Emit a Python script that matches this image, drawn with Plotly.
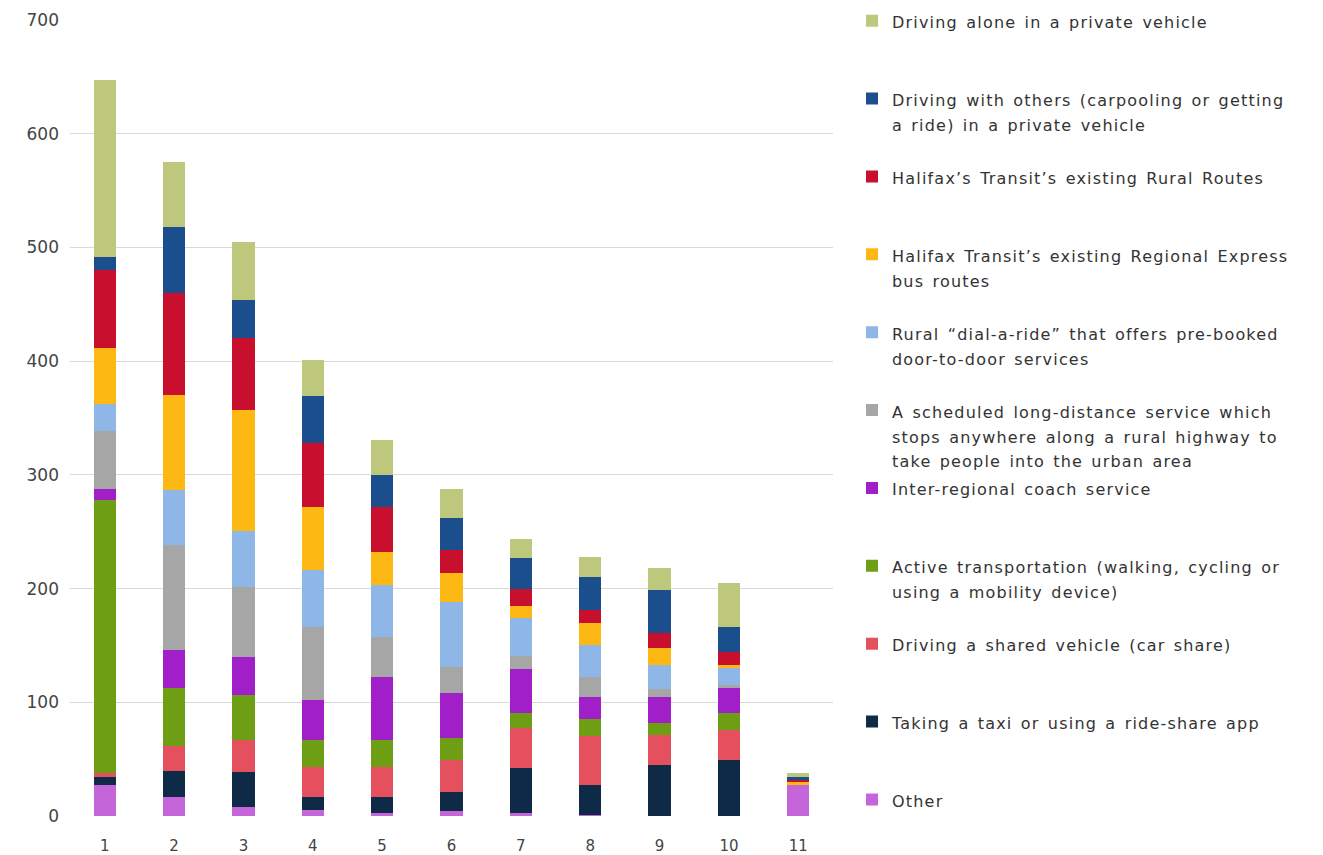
import plotly.graph_objects as go

categories = ["1", "2", "3", "4", "5", "6", "7", "8", "9", "10", "11"]

# values per mode, listed from the bottom of each stack to the top
other = [27, 17, 8, 5, 3, 4, 3, 1, 0, 0, 27]
taxi = [7, 23, 31, 12, 14, 17, 39, 26, 45, 49, 0]
car_share = [4, 22, 28, 26, 26, 28, 35, 43, 26, 27, 0]
active = [240, 51, 39, 24, 24, 20, 14, 15, 11, 15, 0]
coach = [10, 33, 34, 35, 55, 39, 38, 20, 23, 22, 0]
scheduled = [51, 92, 61, 64, 35, 23, 12, 17, 7, 2, 0]
dial_a_ride = [23, 49, 50, 50, 46, 57, 33, 28, 21, 15, 0]
regional_express = [50, 83, 106, 56, 29, 26, 11, 20, 15, 3, 3]
rural_routes = [68, 90, 63, 56, 40, 20, 15, 11, 13, 11, 2]
driving_with_others = [12, 58, 34, 41, 28, 28, 27, 29, 38, 22, 2]
driving_alone = [155, 57, 51, 32, 31, 26, 17, 18, 19, 39, 4]

series = [
    (["Other"], other, "#C466DA"),
    (["Taking a taxi or using a ride-share app"], taxi, "#0E2A47"),
    (["Driving a shared vehicle (car share)"], car_share, "#E4505E"),
    (["Active transportation (walking, cycling or", "using a mobility device)"], active, "#6E9E14"),
    (["Inter-regional coach service"], coach, "#A01FC8"),
    (["A scheduled long-distance service which", "stops anywhere along a rural highway to",
      "take people into the urban area"], scheduled, "#A6A6A6"),
    (["Rural \u201cdial-a-ride\u201d that offers pre-booked", "door-to-door services"], dial_a_ride, "#8EB6E6"),
    (["Halifax Transit\u2019s existing Regional Express", "bus routes"], regional_express, "#FDB813"),
    (["Halifax\u2019s Transit\u2019s existing Rural Routes"], rural_routes, "#C8102E"),
    (["Driving with others (carpooling or getting", "a ride) in a private vehicle"], driving_with_others, "#1A4E8C"),
    (["Driving alone in a private vehicle"], driving_alone, "#BEC87D"),
]

LABEL_STYLE = "font-size:16px;letter-spacing:1.2px;word-spacing:2px"


def legend_label(lines, pad=True):
    # pad entries to three lines so the legend rows are evenly spaced
    if pad:
        lines = lines + [" "] * (3 - len(lines))
    return "<br>".join('<span style="%s">%s</span>' % (LABEL_STYLE, l) for l in lines)


fig = go.Figure()
for i, (lines, values, color) in enumerate(series):
    fig.add_trace(go.Bar(
        x=categories, y=values, name=legend_label(lines, pad=(i != 0)),
        marker=dict(color=color, line=dict(width=0)),
        legendgroup="g%d" % i,
    ))

fig.update_layout(
    barmode="stack",
    bargap=0.68,
    width=1323, height=855,
    margin=dict(l=70, r=490, t=20, b=39),
    plot_bgcolor="white", paper_bgcolor="white",
    font=dict(family="DejaVu Sans", color="#333333"),
    legend=dict(
        xref="container", yref="container",
        x=0.644, y=0.998, xanchor="left", yanchor="top",
        traceorder="reversed",
        valign="top",
        tracegroupgap=2,
        maxheight=1.0,
        font=dict(size=19.2, color="#333333"),
        itemclick=False,
    ),
)
fig.update_yaxes(range=[0, 700], dtick=100, showgrid=True, gridcolor="#d9d9d9",
                 gridwidth=1, zeroline=False, showline=False, automargin=False,
                 tickfont=dict(size=17, color="#444444"), ticklabelstandoff=10)
fig.update_xaxes(showgrid=False, showline=False, zeroline=False, automargin=False,
                 tickfont=dict(size=15, color="#444444"), ticklabelstandoff=19)

# drop the page's default body margin so the figure sits at the window corner
fig.write_html("out.html", config={"displayModeBar": False},
               post_script="document.body.style.margin='0';")
